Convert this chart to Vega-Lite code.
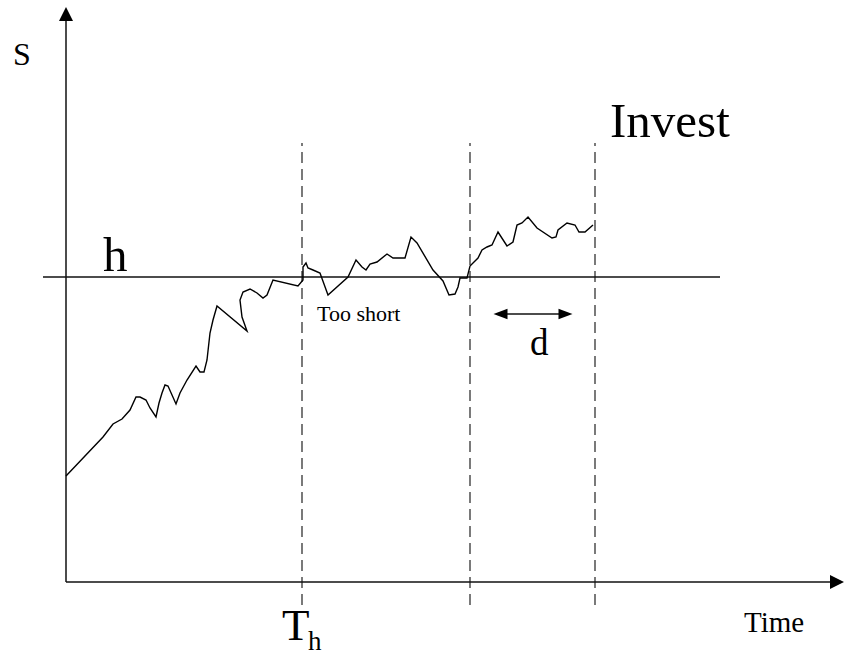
{
  "$schema": "https://vega.github.io/schema/vega-lite/v6.json",
  "width": 844,
  "height": 655,
  "padding": 0,
  "autosize": {"type": "none"},
  "background": "white",
  "config": {"view": {"stroke": null}},
  "datasets": {
    "curve": [
      {"i": 1, "t": 0, "s": 106}, {"i": 2, "t": 37, "s": 145}, {"i": 3, "t": 47, "s": 158}, {"i": 4, "t": 56, "s": 163},
      {"i": 5, "t": 64, "s": 172}, {"i": 6, "t": 70, "s": 185}, {"i": 7, "t": 74, "s": 185}, {"i": 8, "t": 80, "s": 182},
      {"i": 9, "t": 84, "s": 174}, {"i": 10, "t": 90, "s": 165}, {"i": 11, "t": 93, "s": 179}, {"i": 12, "t": 96, "s": 189},
      {"i": 13, "t": 99, "s": 197}, {"i": 14, "t": 102, "s": 196}, {"i": 15, "t": 110, "s": 178}, {"i": 16, "t": 114, "s": 189},
      {"i": 17, "t": 121, "s": 202}, {"i": 18, "t": 130, "s": 216}, {"i": 19, "t": 134, "s": 210}, {"i": 20, "t": 138, "s": 210},
      {"i": 21, "t": 141, "s": 222}, {"i": 22, "t": 144, "s": 249}, {"i": 23, "t": 147, "s": 262}, {"i": 24, "t": 151, "s": 276},
      {"i": 25, "t": 181, "s": 251}, {"i": 26, "t": 176, "s": 265}, {"i": 27, "t": 174, "s": 282}, {"i": 28, "t": 177, "s": 290},
      {"i": 29, "t": 184, "s": 293}, {"i": 30, "t": 191, "s": 289}, {"i": 31, "t": 197, "s": 284}, {"i": 32, "t": 201, "s": 287},
      {"i": 33, "t": 205, "s": 297}, {"i": 34, "t": 207, "s": 302}, {"i": 35, "t": 232, "s": 296}, {"i": 36, "t": 237, "s": 302},
      {"i": 37, "t": 237, "s": 315}, {"i": 38, "t": 240, "s": 319}, {"i": 39, "t": 242, "s": 314}, {"i": 40, "t": 247, "s": 312},
      {"i": 41, "t": 254, "s": 309}, {"i": 42, "t": 262, "s": 287}, {"i": 43, "t": 282, "s": 305}, {"i": 44, "t": 290, "s": 322},
      {"i": 45, "t": 296, "s": 315}, {"i": 46, "t": 300, "s": 312}, {"i": 47, "t": 304, "s": 318}, {"i": 48, "t": 311, "s": 320},
      {"i": 49, "t": 321, "s": 328}, {"i": 50, "t": 327, "s": 324}, {"i": 51, "t": 339, "s": 324}, {"i": 52, "t": 345, "s": 345},
      {"i": 53, "t": 351, "s": 339}, {"i": 54, "t": 367, "s": 312}, {"i": 55, "t": 377, "s": 301}, {"i": 56, "t": 383, "s": 287},
      {"i": 57, "t": 389, "s": 288}, {"i": 58, "t": 392, "s": 295}, {"i": 59, "t": 394, "s": 304}, {"i": 60, "t": 401, "s": 304},
      {"i": 61, "t": 404, "s": 316}, {"i": 62, "t": 407, "s": 319}, {"i": 63, "t": 412, "s": 324}, {"i": 64, "t": 416, "s": 332},
      {"i": 65, "t": 421, "s": 335}, {"i": 66, "t": 426, "s": 337}, {"i": 67, "t": 432, "s": 350}, {"i": 68, "t": 441, "s": 336},
      {"i": 69, "t": 447, "s": 340}, {"i": 70, "t": 451, "s": 357}, {"i": 71, "t": 456, "s": 359}, {"i": 72, "t": 462, "s": 365},
      {"i": 73, "t": 471, "s": 354}, {"i": 74, "t": 486, "s": 344}, {"i": 75, "t": 490, "s": 345}, {"i": 76, "t": 492, "s": 352},
      {"i": 77, "t": 501, "s": 359}, {"i": 78, "t": 509, "s": 357}, {"i": 79, "t": 513, "s": 350}, {"i": 80, "t": 519, "s": 350},
      {"i": 81, "t": 527, "s": 357}
    ],
    "solid": [
      {"name": "S axis", "t": 0, "s": 0, "t2": 0, "s2": 565},
      {"name": "Time axis", "t": 0, "s": 0, "t2": 768, "s2": 0},
      {"name": "h", "t": -23, "s": 305, "t2": 654, "s2": 305},
      {"name": "d", "t": 430, "s": 268, "t2": 504, "s2": 268}
    ],
    "dashed": [
      {"name": "Th", "t": 236, "s": -23, "s2": 439},
      {"name": "end short", "t": 404, "s": -23, "s2": 439},
      {"name": "invest", "t": 529, "s": -23, "s2": 439}
    ],
    "heads": [
      {"dir": "up", "t": 0, "s": 568},
      {"dir": "right", "t": 771, "s": 0},
      {"dir": "dleft", "t": 434.5, "s": 268},
      {"dir": "dright", "t": 499.5, "s": 268}
    ],
    "labels": [
      {"role": "S", "text": "S", "t": -53, "s": 517},
      {"role": "h", "text": "h", "t": 37, "s": 311},
      {"role": "Invest", "text": "Invest", "t": 544, "s": 445},
      {"role": "short", "text": "Too short", "t": 251, "s": 261},
      {"role": "d", "text": "d", "t": 464, "s": 227},
      {"role": "T", "text": "T", "t": 216, "s": -58},
      {"role": "sub", "text": "h", "t": 242, "s": -68},
      {"role": "Time", "text": "Time", "t": 678, "s": -50}
    ]
  },
  "layer": [
    {
      "data": {"name": "dashed"},
      "mark": {"type": "rule", "color": "#222", "strokeWidth": 1.2, "strokeDash": [11, 6]},
      "encoding": {
        "x": {"field": "t", "type": "quantitative", "scale": {"domain": [-66, 778], "nice": false, "zero": false}, "axis": null},
        "y": {"field": "s", "type": "quantitative", "scale": {"domain": [-73, 582], "nice": false, "zero": false}, "axis": null},
        "y2": {"field": "s2"}
      }
    },
    {
      "data": {"name": "solid"},
      "mark": {"type": "rule", "color": "#111", "strokeWidth": 1.5},
      "encoding": {
        "x": {"field": "t", "type": "quantitative", "axis": null},
        "y": {"field": "s", "type": "quantitative", "axis": null},
        "x2": {"field": "t2"},
        "y2": {"field": "s2"}
      }
    },
    {
      "data": {"name": "curve"},
      "mark": {"type": "line", "color": "black", "strokeWidth": 1.4, "interpolate": "linear"},
      "encoding": {
        "x": {"field": "t", "type": "quantitative", "axis": null},
        "y": {"field": "s", "type": "quantitative", "axis": null},
        "order": {"field": "i", "type": "quantitative"}
      }
    },
    {
      "data": {"name": "heads"},
      "mark": {"type": "point", "filled": true, "color": "black", "opacity": 1, "strokeWidth": 0},
      "encoding": {
        "x": {"field": "t", "type": "quantitative", "axis": null},
        "y": {"field": "s", "type": "quantitative", "axis": null},
        "shape": {"field": "dir", "type": "nominal", "legend": null,
          "scale": {"domain": ["up", "right", "dleft", "dright"],
            "range": ["M0,-1L-1,1L1,1Z", "M1,0L-1,-1L-1,1Z", "M-1,0L1,-0.75L1,0.75Z", "M1,0L-1,-0.75L-1,0.75Z"]}},
        "size": {"field": "dir", "type": "nominal", "legend": null,
          "scale": {"domain": ["up", "right", "dleft", "dright"], "range": [196, 196, 169, 169]}}
      }
    },
    {
      "data": {"name": "labels"},
      "transform": [{"filter": "datum.role === 'S'"}],
      "mark": {"type": "text", "font": "Liberation Serif", "fontSize": 32, "align": "left", "baseline": "alphabetic", "color": "black"},
      "encoding": {"x": {"field": "t", "type": "quantitative", "axis": null}, "y": {"field": "s", "type": "quantitative", "axis": null}, "text": {"field": "text"}}
    },
    {
      "data": {"name": "labels"},
      "transform": [{"filter": "datum.role === 'h' || datum.role === 'Invest'"}],
      "mark": {"type": "text", "font": "Liberation Serif", "fontSize": 49, "align": "left", "baseline": "alphabetic", "color": "black"},
      "encoding": {"x": {"field": "t", "type": "quantitative", "axis": null}, "y": {"field": "s", "type": "quantitative", "axis": null}, "text": {"field": "text"}}
    },
    {
      "data": {"name": "labels"},
      "transform": [{"filter": "datum.role === 'short'"}],
      "mark": {"type": "text", "font": "Liberation Serif", "fontSize": 22, "align": "left", "baseline": "alphabetic", "color": "black"},
      "encoding": {"x": {"field": "t", "type": "quantitative", "axis": null}, "y": {"field": "s", "type": "quantitative", "axis": null}, "text": {"field": "text"}}
    },
    {
      "data": {"name": "labels"},
      "transform": [{"filter": "datum.role === 'd'"}],
      "mark": {"type": "text", "font": "Liberation Serif", "fontSize": 37, "align": "left", "baseline": "alphabetic", "color": "black"},
      "encoding": {"x": {"field": "t", "type": "quantitative", "axis": null}, "y": {"field": "s", "type": "quantitative", "axis": null}, "text": {"field": "text"}}
    },
    {
      "data": {"name": "labels"},
      "transform": [{"filter": "datum.role === 'T'"}],
      "mark": {"type": "text", "font": "Liberation Serif", "fontSize": 45, "align": "left", "baseline": "alphabetic", "color": "black"},
      "encoding": {"x": {"field": "t", "type": "quantitative", "axis": null}, "y": {"field": "s", "type": "quantitative", "axis": null}, "text": {"field": "text"}}
    },
    {
      "data": {"name": "labels"},
      "transform": [{"filter": "datum.role === 'sub'"}],
      "mark": {"type": "text", "font": "Liberation Serif", "fontSize": 27, "align": "left", "baseline": "alphabetic", "color": "black"},
      "encoding": {"x": {"field": "t", "type": "quantitative", "axis": null}, "y": {"field": "s", "type": "quantitative", "axis": null}, "text": {"field": "text"}}
    },
    {
      "data": {"name": "labels"},
      "transform": [{"filter": "datum.role === 'Time'"}],
      "mark": {"type": "text", "font": "Liberation Serif", "fontSize": 29, "align": "left", "baseline": "alphabetic", "color": "black"},
      "encoding": {"x": {"field": "t", "type": "quantitative", "axis": null}, "y": {"field": "s", "type": "quantitative", "axis": null}, "text": {"field": "text"}}
    }
  ]
}
